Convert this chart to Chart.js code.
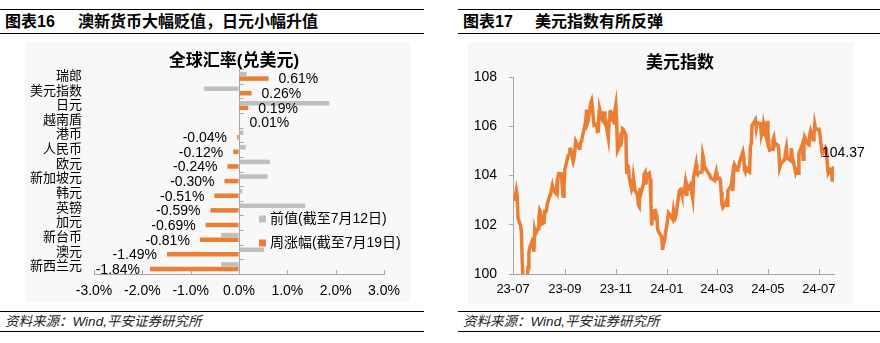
<!DOCTYPE html>
<html>
<head>
<meta charset="utf-8">
<script src="https://cdn.jsdelivr.net/npm/chart.js@4"></script>
<style>
  body {
    margin: 0; width: 880px; height: 343px; position: relative; overflow: hidden; background: #fff;
    font-family: "Liberation Sans", "Noto Sans CJK SC", sans-serif; color: #000;
  }
  .bar { position: absolute; border-top: 1.5px solid #000; border-bottom: 1.5px solid #000; }
  .bar span { position: absolute; white-space: nowrap; }
  .head { top: 9px; height: 23px; line-height: 23px; font-size: 16px; font-weight: bold; }
  .foot { top: 311px; height: 19px; line-height: 19px; font-size: 13.5px; font-style: italic; color: #222; }
  .bg { position: absolute; background: #f8f8f8; }
  canvas { position: absolute; }
</style>
</head>
<body>
<div class="bar head" style="left:0;width:424px"><span style="left:5px">图表16</span><span style="left:78px">澳新货币大幅贬值，日元小幅升值</span></div>
<div class="bar foot" style="left:0;width:424px"><span style="left:5px">资料来源：Wind,平安证券研究所</span></div>
<div class="bar head" style="left:458px;width:422px"><span style="left:5px">图表17</span><span style="left:77px">美元指数有所反弹</span></div>
<div class="bar foot" style="left:458px;width:422px"><span style="left:5px">资料来源：Wind,平安证券研究所</span></div>
<div class="bg" style="left:25px;top:42px;width:386px;height:260px"></div>
<div class="bg" style="left:468px;top:42px;width:385px;height:262px"></div>
<canvas id="fxChart" width="386" height="260" style="left:25px;top:42px"></canvas>
<canvas id="dxyChart" width="405" height="262" style="left:468px;top:42px"></canvas>
<script>
// 左图：全球汇率(兑美元)
var currencies = ['瑞郎', '美元指数', '日元', '越南盾', '港币', '人民币', '欧元', '新加坡元', '韩元', '英镑', '加元', '新台币', '澳元', '新西兰元'];
var prevChange = [0.16, -0.72, 1.87, 0.02, 0.09, 0.14, 0.64, 0.59, 0.07, 1.37, 0.02, -0.37, 0.52, -0.37];
var weekChange = [0.61, 0.26, 0.19, 0.01, -0.04, -0.12, -0.24, -0.30, -0.51, -0.59, -0.69, -0.81, -1.49, -1.84];
var fxSeriesNames = ['前值(截至7月12日)', '周涨幅(截至7月19日)'];

// 右图：美元指数(日度)
var dxyDates = [
  '2023-07-03','2023-07-05','2023-07-06','2023-07-07','2023-07-10','2023-07-11','2023-07-12','2023-07-13','2023-07-14','2023-07-17','2023-07-18','2023-07-19','2023-07-20','2023-07-21','2023-07-24','2023-07-25','2023-07-26','2023-07-27','2023-07-28','2023-07-31',
  '2023-08-01','2023-08-02','2023-08-03','2023-08-04','2023-08-07','2023-08-08','2023-08-09','2023-08-10','2023-08-11','2023-08-14','2023-08-15','2023-08-16','2023-08-17','2023-08-18','2023-08-21','2023-08-22','2023-08-23','2023-08-24','2023-08-25','2023-08-28','2023-08-29','2023-08-30','2023-08-31',
  '2023-09-01','2023-09-05','2023-09-06','2023-09-07','2023-09-08','2023-09-11','2023-09-12','2023-09-13','2023-09-14','2023-09-15','2023-09-18','2023-09-19','2023-09-20','2023-09-21','2023-09-22','2023-09-25','2023-09-26','2023-09-27','2023-09-28','2023-09-29',
  '2023-10-02','2023-10-03','2023-10-04','2023-10-05','2023-10-06','2023-10-09','2023-10-10','2023-10-11','2023-10-12','2023-10-13','2023-10-16','2023-10-17','2023-10-18','2023-10-19','2023-10-20','2023-10-23','2023-10-24','2023-10-25','2023-10-26','2023-10-27','2023-10-30','2023-10-31',
  '2023-11-01','2023-11-02','2023-11-03','2023-11-06','2023-11-07','2023-11-08','2023-11-09','2023-11-10','2023-11-13','2023-11-14','2023-11-15','2023-11-16','2023-11-17','2023-11-20','2023-11-21','2023-11-22','2023-11-24','2023-11-27','2023-11-28','2023-11-29','2023-11-30',
  '2023-12-01','2023-12-04','2023-12-05','2023-12-06','2023-12-07','2023-12-08','2023-12-11','2023-12-12','2023-12-13','2023-12-14','2023-12-15','2023-12-18','2023-12-19','2023-12-20','2023-12-21','2023-12-22','2023-12-26','2023-12-27','2023-12-28','2023-12-29',
  '2024-01-02','2024-01-03','2024-01-04','2024-01-05','2024-01-08','2024-01-09','2024-01-10','2024-01-11','2024-01-12','2024-01-16','2024-01-17','2024-01-18','2024-01-19','2024-01-22','2024-01-23','2024-01-24','2024-01-25','2024-01-26','2024-01-29','2024-01-30','2024-01-31',
  '2024-02-01','2024-02-02','2024-02-05','2024-02-06','2024-02-07','2024-02-08','2024-02-09','2024-02-12','2024-02-13','2024-02-14','2024-02-15','2024-02-16','2024-02-20','2024-02-21','2024-02-22','2024-02-23','2024-02-26','2024-02-27','2024-02-28','2024-02-29',
  '2024-03-01','2024-03-04','2024-03-05','2024-03-06','2024-03-07','2024-03-08','2024-03-11','2024-03-12','2024-03-13','2024-03-14','2024-03-15','2024-03-18','2024-03-19','2024-03-20','2024-03-21','2024-03-22','2024-03-25','2024-03-26','2024-03-27','2024-03-28',
  '2024-04-01','2024-04-02','2024-04-03','2024-04-04','2024-04-05','2024-04-08','2024-04-09','2024-04-10','2024-04-11','2024-04-12','2024-04-15','2024-04-16','2024-04-17','2024-04-18','2024-04-19','2024-04-22','2024-04-23','2024-04-24','2024-04-25','2024-04-26','2024-04-29','2024-04-30',
  '2024-05-01','2024-05-02','2024-05-03','2024-05-06','2024-05-07','2024-05-08','2024-05-09','2024-05-10','2024-05-13','2024-05-14','2024-05-15','2024-05-16','2024-05-17','2024-05-20','2024-05-21','2024-05-22','2024-05-23','2024-05-24','2024-05-28','2024-05-29','2024-05-30','2024-05-31',
  '2024-06-03','2024-06-04','2024-06-05','2024-06-06','2024-06-07','2024-06-10','2024-06-11','2024-06-12','2024-06-13','2024-06-14','2024-06-17','2024-06-18','2024-06-19','2024-06-20','2024-06-21','2024-06-24','2024-06-25','2024-06-26','2024-06-27','2024-06-28',
  '2024-07-01','2024-07-02','2024-07-03','2024-07-05','2024-07-08','2024-07-09','2024-07-10','2024-07-11','2024-07-12','2024-07-15','2024-07-16','2024-07-17','2024-07-18','2024-07-19'
];
var dxyValues = [
  102.97, 103.40, 103.20, 102.27, 101.97, 101.73, 100.55, 99.77, 99.91, 99.94, 99.86, 100.26, 100.85, 101.07, 101.36, 101.31, 100.90, 101.77, 101.62, 101.86,
  102.30, 102.59, 102.52, 102.02, 102.08, 102.53, 102.51, 102.59, 102.85, 103.19, 103.20, 103.43, 103.59, 103.42, 103.29, 103.55, 103.42, 103.98, 104.08, 104.06, 103.51, 103.16, 103.62,
  104.24, 104.82, 104.84, 105.06, 105.07, 104.57, 104.71, 104.71, 105.39, 105.32, 105.11, 105.18, 105.35, 105.39, 105.58, 106.02, 106.21, 106.68, 106.13, 106.23,
  106.95, 107.04, 106.76, 106.34, 106.04, 106.08, 105.79, 105.80, 106.60, 106.65, 106.25, 106.20, 106.60, 106.25, 106.16, 105.53, 106.24, 106.58, 106.60, 106.56, 106.13, 106.68,
  106.88, 106.23, 105.02, 105.25, 105.56, 105.51, 105.89, 105.86, 105.65, 104.06, 104.41, 104.36, 103.92, 103.44, 103.55, 103.92, 103.40, 103.20, 102.80, 102.74, 103.50,
  103.27, 103.67, 104.06, 104.12, 103.63, 104.00, 104.09, 103.86, 102.86, 101.97, 102.55, 102.58, 102.18, 102.42, 101.83, 101.72, 101.50, 100.98, 101.23, 101.33,
  102.20, 102.47, 102.42, 102.40, 102.22, 102.56, 102.36, 102.28, 102.40, 103.37, 103.42, 103.44, 103.29, 103.32, 103.60, 103.24, 103.58, 103.44, 103.61, 103.40, 103.27,
  103.07, 103.92, 104.46, 104.11, 104.05, 104.13, 104.12, 104.14, 104.85, 104.70, 104.28, 104.30, 104.08, 104.05, 103.95, 103.88, 103.83, 103.80, 104.00, 104.14,
  103.86, 103.89, 103.83, 103.34, 102.82, 102.71, 102.87, 102.95, 102.79, 103.36, 103.43, 103.58, 103.83, 103.38, 104.21, 104.43, 104.22, 104.30, 104.35, 104.55,
  104.96, 104.74, 104.24, 104.15, 104.30, 104.15, 104.13, 105.19, 105.29, 106.04, 106.20, 106.26, 105.95, 106.15, 106.15, 106.10, 105.67, 105.84, 105.60, 106.06, 105.58, 106.22,
  105.75, 105.28, 105.03, 105.07, 105.44, 105.54, 105.23, 105.30, 105.22, 105.00, 104.33, 104.45, 104.48, 104.63, 104.64, 104.94, 105.12, 104.72, 104.61, 105.11, 104.75, 104.63,
  104.14, 104.26, 104.28, 104.09, 104.89, 105.15, 105.26, 104.66, 105.22, 105.55, 105.32, 105.27, 105.25, 105.63, 105.80, 105.45, 105.63, 106.07, 105.88, 105.87,
  105.88, 105.73, 105.40, 104.88, 105.01, 105.12, 105.05, 104.44, 104.09, 104.26, 104.24, 103.75, 104.17, 104.37
];
var dxyTickDates = ['2023-07-01', '2023-09-01', '2023-11-01', '2024-01-01', '2024-03-01', '2024-05-01', '2024-07-01'];
var dxyTickLabels = ['23-07', '23-09', '23-11', '24-01', '24-03', '24-05', '24-07'];

var ORANGE = '#ED7D31';
var GREY = '#BFBFBF';
var AXIS = '#a6a6a6';

Chart.defaults.font.family = '"Liberation Sans", "Noto Sans CJK SC", sans-serif';
Chart.defaults.color = '#000';

// 日期 -> 自2023-07-01起的天数
function dayOf(s) {
  var p = s.split('-');
  return (Date.UTC(+p[0], +p[1] - 1, +p[2]) - Date.UTC(2023, 6, 1)) / 86400000;
}

function font(size, weight) {
  return (weight || '') + ' ' + size + 'px "Liberation Sans", "Noto Sans CJK SC", sans-serif';
}

// 标题（自己画，位置可控）
var chartTitle = {
  id: 'chartTitle',
  afterDraw: function (chart, args, opts) {
    var ctx = chart.ctx;
    ctx.save();
    ctx.font = font(17, 'bold');
    ctx.fillStyle = '#000';
    ctx.textAlign = 'center';
    ctx.textBaseline = 'middle';
    ctx.fillText(opts.text, opts.x, opts.y);
    ctx.restore();
  }
};

// 左图：刻度线、数据标签、图例
var fxDecor = {
  id: 'fxDecor',
  afterDatasetsDraw: function (chart) {
    var ctx = chart.ctx, area = chart.chartArea, xs = chart.scales.x;
    ctx.save();
    ctx.strokeStyle = AXIS;
    ctx.lineWidth = 1;
    var zero = Math.round(xs.getPixelForValue(0)) + 0.5;
    for (var i = 0; i <= currencies.length; i++) {
      var py = Math.round(area.top + (area.bottom - area.top) * i / currencies.length) + 0.5;
      ctx.beginPath(); ctx.moveTo(zero, py); ctx.lineTo(zero + 4, py); ctx.stroke();
    }
    xs.ticks.forEach(function (t) {
      var px = Math.round(xs.getPixelForValue(t.value)) + 0.5;
      ctx.beginPath(); ctx.moveTo(px, area.bottom); ctx.lineTo(px, area.bottom - 4); ctx.stroke();
    });

    // 周涨幅数据标签
    ctx.font = font(14);
    ctx.fillStyle = '#000';
    ctx.textBaseline = 'middle';
    chart.getDatasetMeta(1).data.forEach(function (bar, i) {
      var v = weekChange[i];
      ctx.textAlign = v >= 0 ? 'left' : 'right';
      ctx.fillText(v.toFixed(2) + '%', bar.x + (v >= 0 ? 10 : -10), bar.y + 1);
    });

    // 图例
    var lx = area.left + 165, ly = area.top + 150;
    chart.data.datasets.forEach(function (ds, i) {
      var y = ly + i * 24;
      ctx.fillStyle = ds.backgroundColor;
      ctx.fillRect(lx, y - 3.5, 7, 7);
      ctx.fillStyle = '#000';
      ctx.textAlign = 'left';
      ctx.fillText(ds.label, lx + 11, y);
    });
    ctx.restore();
  }
};

new Chart(document.getElementById('fxChart'), {
  type: 'bar',
  data: {
    labels: currencies,
    datasets: [
      { label: fxSeriesNames[0], data: prevChange, backgroundColor: GREY },
      { label: fxSeriesNames[1], data: weekChange, backgroundColor: ORANGE }
    ]
  },
  options: {
    indexAxis: 'y',
    responsive: false,
    animation: false,
    devicePixelRatio: 1,
    categoryPercentage: 0.62,
    barPercentage: 1,
    layout: { padding: { top: 27, right: 27, left: 0, bottom: 0 } },
    plugins: {
      legend: { display: false },
      tooltip: { enabled: false },
      chartTitle: { text: '全球汇率(兑美元)', x: 209, y: 19 }
    },
    scales: {
      x: {
        min: -3,
        max: 3,
        ticks: {
          stepSize: 1,
          padding: 9,
          font: { size: 14 },
          callback: function (v) { return v.toFixed(1) + '%'; }
        },
        grid: {
          drawTicks: false,
          color: function (c) { return c.tick && c.tick.value === 0 ? AXIS : 'rgba(0,0,0,0)'; }
        },
        border: { color: AXIS },
        afterFit: function (s) { s.height = 28; }
      },
      y: {
        ticks: { padding: 12, autoSkip: false, font: { size: 13 } },
        grid: { display: false, drawTicks: false },
        border: { display: false },
        afterFit: function (s) { s.width = 69; }
      }
    }
  },
  plugins: [chartTitle, fxDecor]
});

// 右图：x轴向内刻度、末值标签
var dxyDecor = {
  id: 'dxyDecor',
  afterDatasetsDraw: function (chart) {
    var ctx = chart.ctx, area = chart.chartArea, xs = chart.scales.x;
    ctx.save();
    ctx.strokeStyle = AXIS;
    ctx.lineWidth = 1;
    xs.ticks.forEach(function (t) {
      var px = Math.round(xs.getPixelForValue(t.value)) + 0.5;
      ctx.beginPath(); ctx.moveTo(px, area.bottom); ctx.lineTo(px, area.bottom - 5); ctx.stroke();
    });
    var pts = chart.getDatasetMeta(0).data;
    var last = pts[pts.length - 1];
    ctx.font = font(14);
    ctx.fillStyle = '#000';
    ctx.textAlign = 'left';
    ctx.textBaseline = 'middle';
    ctx.fillText(dxyValues[dxyValues.length - 1].toFixed(2), last.x - 12, last.y - 13);
    ctx.restore();
  }
};

new Chart(document.getElementById('dxyChart'), {
  type: 'line',
  data: {
    datasets: [{
      label: '美元指数',
      data: dxyDates.map(function (d, i) { return { x: dayOf(d), y: dxyValues[i] }; }),
      borderColor: ORANGE,
      borderWidth: 3.5,
      pointRadius: 0,
      tension: 0
    }]
  },
  options: {
    responsive: false,
    animation: false,
    devicePixelRatio: 1,
    layout: { padding: { top: 35, right: 39, left: 0, bottom: 0 } },
    plugins: {
      legend: { display: false },
      tooltip: { enabled: false },
      chartTitle: { text: '美元指数', x: 212, y: 21 }
    },
    scales: {
      x: {
        type: 'linear',
        min: 0,
        max: dayOf(dxyDates[dxyDates.length - 1]),
        afterBuildTicks: function (s) {
          s.ticks = dxyTickDates.map(function (d) { return { value: dayOf(d) }; });
        },
        ticks: {
          autoSkip: false,
          maxRotation: 0,
          padding: 8,
          font: { size: 13 },
          callback: function (v, i) { return dxyTickLabels[i]; }
        },
        grid: { display: false, drawTicks: false },
        border: { color: AXIS },
        afterFit: function (s) { s.height = 30; }
      },
      y: {
        min: 100,
        max: 108,
        ticks: { stepSize: 2, padding: 12, font: { size: 14 } },
        grid: { drawOnChartArea: false, tickLength: 4, color: AXIS },
        border: { color: AXIS },
        afterFit: function (s) { s.width = 45; }
      }
    }
  },
  plugins: [chartTitle, dxyDecor]
});
</script>
</body>
</html>
